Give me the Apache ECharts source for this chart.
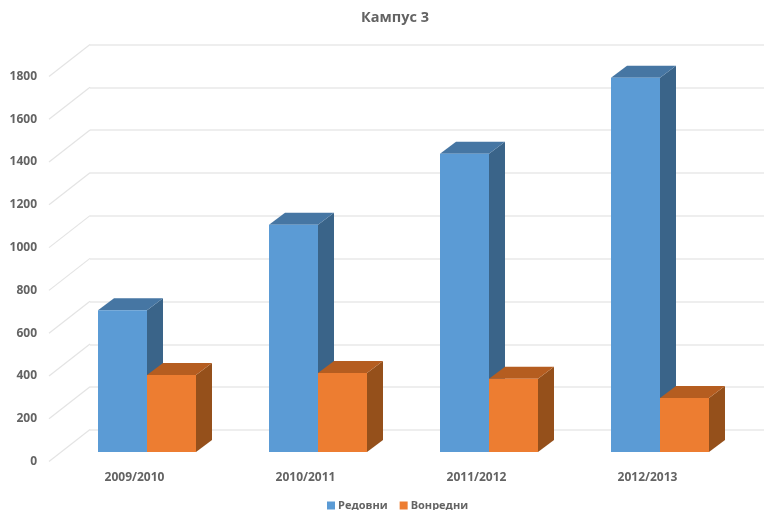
<!DOCTYPE html>
<html><head><meta charset="utf-8">
<style>html,body{margin:0;padding:0;background:#fff}#c{width:764px;height:510px}</style>
<script src="https://cdn.jsdelivr.net/npm/echarts@6/dist/echarts.min.js"></script>
</head><body><div id="c"></div>
<script>
const titleText = 'Кампус 3';
const categories = ['2009/2010', '2010/2011', '2011/2012', '2012/2013'];
const redovni = [663, 1062, 1395, 1750];
const vonredni = [360, 369, 343, 252];
const ticks = [0, 200, 400, 600, 800, 1000, 1200, 1400, 1600, 1800];

const font = '"Open Sans", sans-serif';
const gray = '#636363';
const depthX = 16, depthY = -12;
const wallX = 41, wallY = -32;
const barShare = 49 / 171;

function bar3d(offsetSign, front, top, side) {
  return function (params, api) {
    const base = api.coord([api.value(0), 0]);
    const head = api.coord([api.value(0), api.value(1)]);
    const w = api.size([1, 0])[0] * barShare;
    const x0 = base[0] + (offsetSign < 0 ? -w : 0);
    const x1 = x0 + w;
    const y0 = base[1], y1 = head[1];
    return {
      type: 'group',
      children: [
        { type: 'polygon', shape: { points: [[x1, y0], [x1 + depthX, y0 + depthY], [x1 + depthX, y1 + depthY], [x1, y1]] }, style: { fill: side } },
        { type: 'polygon', shape: { points: [[x0, y1], [x0 + depthX, y1 + depthY], [x1 + depthX, y1 + depthY], [x1, y1]] }, style: { fill: top } },
        { type: 'rect', shape: { x: x0, y: y1, width: w, height: y0 - y1 }, style: { fill: front } }
      ]
    };
  };
}

function diagonal(params, api) {
  const y = api.coord([0, api.value(0)])[1];
  const x = params.coordSys.x;
  return {
    type: 'line',
    shape: { x1: x, y1: y, x2: x + wallX, y2: y + wallY },
    style: { stroke: '#e4e4e4', lineWidth: 1.2 }
  };
}

const chart = echarts.init(document.getElementById('c'), null, { renderer: 'canvas' });
chart.setOption({
  animation: false,
  backgroundColor: '#fff',
  title: {
    text: titleText, left: 356, top: 5,
    textStyle: { fontFamily: font, fontSize: 14.5, fontWeight: 700, color: gray }
  },
  legend: {
    left: 322, top: 495, itemWidth: 8, itemHeight: 8, itemGap: 12, icon: 'rect',
    data: ['Редовни', 'Вонредни'],
    textStyle: { fontFamily: font, fontSize: 11, fontWeight: 700, color: gray, padding: [0, 0, 0, -2] }
  },
  grid: [
    { left: 90, right: 0, top: 44.5, height: 385.5 },
    { left: 49, width: 684, top: 76.5, height: 385 },
    { left: 61.5, width: 684, top: 67, height: 385 }
  ],
  xAxis: [
    { gridIndex: 0, type: 'category', data: categories, show: false },
    {
      gridIndex: 1, type: 'category', data: categories,
      axisLine: { show: false }, axisTick: { show: false },
      axisLabel: { margin: 10, fontFamily: font, fontSize: 12, fontWeight: 700, color: gray }
    },
    { gridIndex: 2, type: 'category', data: categories, show: false }
  ],
  yAxis: [
    {
      gridIndex: 0, type: 'value', min: 0, max: 1800, interval: 200,
      axisLine: { show: false }, axisTick: { show: false }, axisLabel: { show: false },
      splitLine: { lineStyle: { color: '#e8e8e8', width: 1.5 } }
    },
    {
      gridIndex: 1, type: 'value', min: 0, max: 1800, interval: 200,
      axisLine: { show: false }, axisTick: { show: false }, splitLine: { show: false },
      axisLabel: { margin: 12, fontFamily: font, fontSize: 12, fontWeight: 700, color: gray, formatter: v => String(v) }
    },
    { gridIndex: 2, type: 'value', min: 0, max: 1800, show: false }
  ],
  series: [
    {
      type: 'custom', xAxisIndex: 1, yAxisIndex: 1, silent: true, clip: false,
      renderItem: diagonal, data: ticks.map(t => [t]), encode: { y: 0 }, legendHoverLink: false
    },
    {
      name: 'Редовни', type: 'custom', xAxisIndex: 2, yAxisIndex: 2, clip: false,
      itemStyle: { color: '#5B9BD5' },
      renderItem: bar3d(-1, '#5B9BD5', '#4676A3', '#3A6489'),
      data: redovni.map((v, i) => [i, v]), encode: { x: 0, y: 1 }
    },
    {
      name: 'Вонредни', type: 'custom', xAxisIndex: 2, yAxisIndex: 2, clip: false,
      itemStyle: { color: '#ED7D31' },
      renderItem: bar3d(1, '#ED7D31', '#B55D20', '#95501B'),
      data: vonredni.map((v, i) => [i, v]), encode: { x: 0, y: 1 }
    }
  ]
});
</script></body></html>
